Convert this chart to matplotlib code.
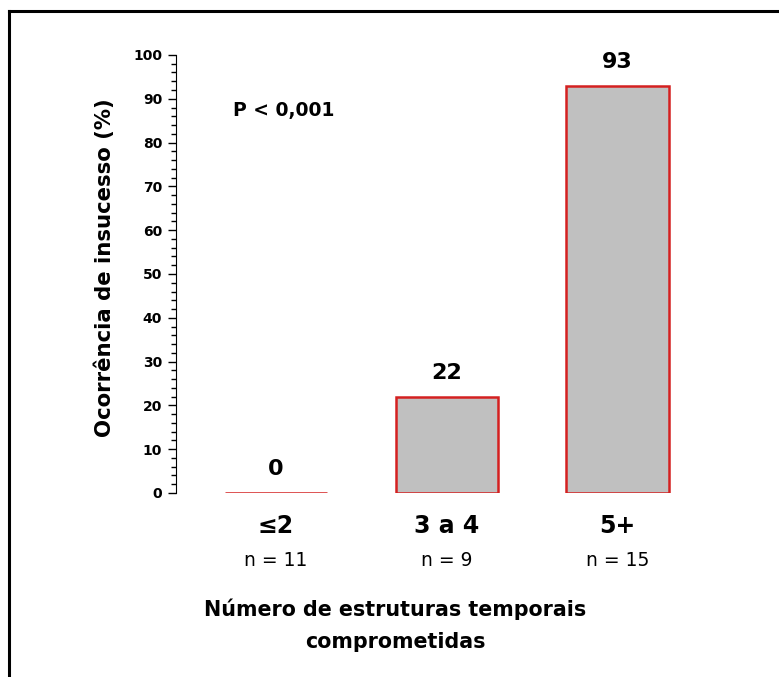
import matplotlib.pyplot as plt
from matplotlib.lines import Line2D
from matplotlib.ticker import MultipleLocator

plt.rcParams['font.family'] = ['DejaVu Sans']

categorias = ['≤2', '3 a 4', '5+']
n_casos = ['n = 11', 'n = 9', 'n = 15']
insucesso = [0, 22, 93]

fig = plt.figure(figsize=(7.79, 6.77), dpi=100)
ax = fig.add_axes([0.226, 0.2718, 0.6765, 0.647])

x = range(len(categorias))
ax.bar(x, insucesso, width=0.6, color='#c0c0c0', edgecolor='#d42020', linewidth=1.8)

for xi, v in zip(x, insucesso):
    ax.text(xi, v + 4, str(v), ha='center', va='baseline', fontsize=16, fontweight='bold')

trans = ax.get_xaxis_transform()
for xi, cat, n in zip(x, categorias, n_casos):
    ax.text(xi, -0.075, cat, transform=trans, ha='center', va='center', fontsize=17,
            fontweight='bold')
    ax.text(xi, -0.155, n, transform=trans, ha='center', va='center', fontsize=13.5)

ax.text(-0.25, 87.4, 'P < 0,001', ha='left', va='center', fontsize=13.5, fontweight='bold')

ax.set_xlim(-0.585, 2.5)
ax.set_ylim(0, 100)
ax.yaxis.set_major_locator(MultipleLocator(10))
ax.yaxis.set_minor_locator(MultipleLocator(2))
ax.tick_params(axis='y', which='major', length=6, width=1, labelsize=10, pad=4)
ax.tick_params(axis='y', which='minor', length=3.5, width=1)
for lbl in ax.get_yticklabels():
    lbl.set_fontweight('bold')
ax.set_xticks([])
for s in ['top', 'right', 'bottom']:
    ax.spines[s].set_visible(False)

fig.text(0.135, 0.604, 'Ocorrência de insucesso (%)', rotation=90, ha='center', va='center',
         fontsize=15.3, fontweight='bold')
fig.text(0.507, 0.077, 'Número de estruturas temporais\ncomprometidas', ha='center', va='center',
         fontsize=14.9, fontweight='bold', linespacing=1.75)

# moldura (só esquerda e topo visíveis)
fig.add_artist(Line2D([0.0116, 0.0116], [0, 0.9838], color='black', linewidth=2.2, transform=fig.transFigure))
fig.add_artist(Line2D([0.0116, 1.0], [0.9838, 0.9838], color='black', linewidth=2.2, transform=fig.transFigure))

fig.savefig('out.png', dpi=100)
